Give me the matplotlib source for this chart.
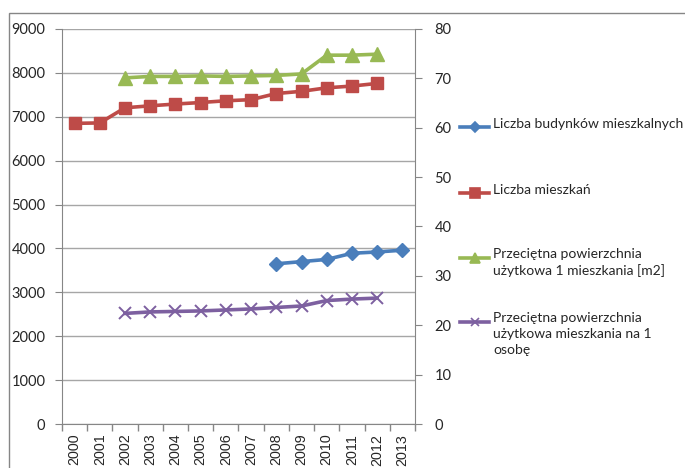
import matplotlib
matplotlib.use("Agg")
import matplotlib.pyplot as plt
from matplotlib.lines import Line2D
from matplotlib.patches import Rectangle
import numpy as np

years = [str(y) for y in range(2000, 2014)]

budynki_years = ["2008", "2009", "2010", "2011", "2012", "2013"]
budynki = [3650, 3700, 3750, 3890, 3920, 3960]

mieszkania_years = [str(y) for y in range(2000, 2013)]
mieszkania = [6850, 6860, 7205, 7250, 7290, 7325, 7365, 7390, 7530, 7580, 7660, 7700, 7760]

pow_years = [str(y) for y in range(2002, 2013)]
pow_mieszkania = [70.1, 70.4, 70.4, 70.5, 70.4, 70.5, 70.6, 70.9, 74.7, 74.7, 74.9]
pow_osoba = [22.4, 22.7, 22.8, 22.9, 23.1, 23.3, 23.6, 23.9, 25.0, 25.3, 25.5]

labels = ["Liczba budynków mieszkalnych", "Liczba mieszkań",
          "Przeciętna powierzchnia\nużytkowa 1 mieszkania [m2]",
          "Przeciętna powierzchnia\nużytkowa mieszkania na 1\nosobę"]

BLUE = "#4A7EBB"
RED = "#BE4B48"
GREEN = "#98B954"
PURPLE = "#7D60A0"
GRID = "#A6A6A6"
AX = "#868686"
TXT = "#262626"

W, H = 685, 468
fig = plt.figure(figsize=(W / 100, H / 100), dpi=100)
fig.patch.set_facecolor("white")

# outer chart border
fig.add_artist(Rectangle((8.5 / W, -0.05), 1.1, 1 - 12.5 / H + 0.05, transform=fig.transFigure,
                         fill=False, edgecolor=AX, linewidth=1.0))

left, right, bottom, top = 62, 415, 424, 29
ax = fig.add_axes([left / W, 1 - bottom / H, (right - left) / W, (bottom - top) / H])
ax2 = ax.twinx()

idx = {y: i for i, y in enumerate(years)}
xb = [idx[y] for y in budynki_years]
xm = [idx[y] for y in mieszkania_years]
xp = [idx[y] for y in pow_years]

ax.plot(xb, budynki, color=BLUE, lw=2.6, marker="D", ms=7, mfc=BLUE, mec=BLUE, zorder=3)
ax.plot(xm, mieszkania, color=RED, lw=2.6, marker="s", ms=8.5, mfc=RED, mec=RED, zorder=3)
ax2.plot(xp, pow_mieszkania, color=GREEN, lw=2.6, marker="^", ms=9.5, mfc=GREEN, mec=GREEN, zorder=3)
ax2.plot(xp, pow_osoba, color=PURPLE, lw=2.6, marker="x", ms=8, mew=1.4, mec=PURPLE, zorder=3)

ax.set_xlim(-0.5, len(years) - 0.5)
ax.set_ylim(0, 9000)
ax2.set_ylim(0, 80)
ax.set_yticks(np.arange(0, 9001, 1000))
ax2.set_yticks(np.arange(0, 81, 10))
ax.yaxis.grid(True, color=GRID, lw=1.0)
ax.set_axisbelow(True)

ax.set_xticks(range(len(years)))
ax.set_xticklabels(years, rotation=90, fontsize=10.3, color=TXT, family="Liberation Sans")
ax.set_xticks(np.arange(-0.5, len(years), 1), minor=True)
ax.tick_params(axis="x", which="major", length=0, pad=7)
ax.tick_params(axis="x", which="minor", length=5, color=AX, width=1)

ax.tick_params(axis="y", length=5, color=AX, labelsize=10.5, labelcolor=TXT, pad=7)
ax2.tick_params(axis="y", length=5, color=AX, labelsize=10.5, labelcolor=TXT, pad=9)
for a in (ax, ax2):
    for lab in a.get_yticklabels():
        lab.set_family("Lato")

for a in (ax, ax2):
    a.spines["top"].set_visible(False)
    a.spines["left"].set_color(AX)
    a.spines["right"].set_color(AX)
    a.spines["bottom"].set_color(AX)
ax.spines["right"].set_visible(False)
ax2.spines["left"].set_visible(False)
ax2.spines["bottom"].set_visible(False)

# legend (drawn manually to match spacing)
entries = [
    (labels[0], BLUE, "D", 5, 127),
    (labels[1], RED, "s", 7, 192.5),
    (labels[2], GREEN, "^", 7, 257.5),
    (labels[3], PURPLE, "x", 6, 321.5),
]
for lab, col, mk, ms, yy in entries:
    yf = 1 - yy / H
    fig.add_artist(Line2D([460 / W, 489 / W], [yf, yf], transform=fig.transFigure,
                          color=col, lw=2.6))
    fig.add_artist(Line2D([474.5 / W], [yf], transform=fig.transFigure, color=col,
                          marker=mk, ms=ms, mfc=col, mec=col, mew=1.2, lw=0))
    fig.text(493 / W, yf + 9 / H, lab, ha="left", va="top", fontsize=10,
             color=TXT, family="Lato", linespacing=1.36)

fig.savefig("out.png", dpi=100, facecolor="white")
